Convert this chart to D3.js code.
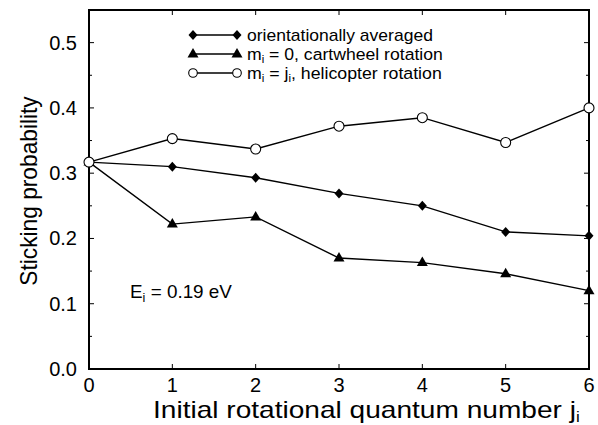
<!DOCTYPE html>
<html><head><meta charset="utf-8">
<script src="https://cdn.jsdelivr.net/npm/d3@7"></script>
<style>body{margin:0;background:#fff}svg{display:block}text{font-family:"Liberation Sans",Arial,sans-serif;fill:#000}</style>
</head><body>
<script>
const jValues = [0, 1, 2, 3, 4, 5, 6];
const averaged = [0.317, 0.310, 0.293, 0.269, 0.250, 0.210, 0.204];
const cartwheel = [0.317, 0.222, 0.233, 0.170, 0.163, 0.146, 0.120];
const helicopter = [0.317, 0.353, 0.337, 0.372, 0.385, 0.347, 0.400];
const xTicks = [0, 1, 2, 3, 4, 5, 6];
const yTicks = [0.0, 0.1, 0.2, 0.3, 0.4, 0.5];
const yMinorTicks = [0.05, 0.15, 0.25, 0.35, 0.45];

const W = 598, H = 425;
const svg = d3.select("body").append("svg").attr("width", W).attr("height", H);
const x = d3.scaleLinear().domain([0, 6]).range([89, 589]);
const y = d3.scaleLinear().domain([0, 0.55]).range([369, 10]);

function fitX(sel, left, right) {
  const bb = sel.node().getBBox();
  const s = (right - left) / bb.width;
  sel.attr("transform", `translate(${left},0) scale(${s},1) translate(${-bb.x},0)`);
}

// tick marks (inward) on all sides
const g = svg.append("g");
const majLen = 5, minLen = 3;
xTicks.forEach(t => {
  g.append("line").attr("x1", x(t)).attr("x2", x(t)).attr("y1", y(0)).attr("y2", y(0) - majLen).attr("stroke", "#000").attr("stroke-width", 1);
  g.append("line").attr("x1", x(t)).attr("x2", x(t)).attr("y1", y(0.55)).attr("y2", y(0.55) + majLen).attr("stroke", "#000").attr("stroke-width", 1);
});
yTicks.forEach(t => {
  g.append("line").attr("x1", x(0)).attr("x2", x(0) + majLen).attr("y1", y(t)).attr("y2", y(t)).attr("stroke", "#000").attr("stroke-width", 1);
  g.append("line").attr("x1", x(6)).attr("x2", x(6) - majLen).attr("y1", y(t)).attr("y2", y(t)).attr("stroke", "#000").attr("stroke-width", 1);
});
yMinorTicks.forEach(t => {
  g.append("line").attr("x1", x(0)).attr("x2", x(0) + minLen).attr("y1", y(t)).attr("y2", y(t)).attr("stroke", "#000").attr("stroke-width", 1);
  g.append("line").attr("x1", x(6)).attr("x2", x(6) - minLen).attr("y1", y(t)).attr("y2", y(t)).attr("stroke", "#000").attr("stroke-width", 1);
});
// frame
svg.append("rect").attr("x", x(0)).attr("y", y(0.55)).attr("width", x(6) - x(0)).attr("height", y(0) - y(0.55))
  .attr("fill", "none").attr("stroke", "#000").attr("stroke-width", 2);

// tick labels
svg.append("g").selectAll("text").data(xTicks).join("text")
  .attr("x", d => x(d)).attr("y", 392).attr("text-anchor", "middle").attr("font-size", 20).text(d => d);
svg.append("g").selectAll("text").data(yTicks).join("text")
  .attr("x", 77).attr("y", d => y(d) + 7).attr("text-anchor", "end").attr("font-size", 20).text(d => d.toFixed(1));

// axis titles
const xt = svg.append("text").attr("x", 153).attr("y", 418).attr("font-size", 23);
xt.append("tspan").text("Initial rotational quantum number j");
xt.append("tspan").attr("font-size", 14).attr("dy", 4).text("i");
fitX(xt, 153, 580);

const yt = svg.append("text").attr("x", 0).attr("y", 0).attr("text-anchor", "middle").attr("font-size", 23).text("Sticking probability");
{
  const bb = yt.node().getBBox();
  const s = 190 / bb.width;
  yt.attr("transform", `translate(37,191) rotate(-90) scale(${s},1)`);
}

// lines
const line = d3.line().x((d, i) => x(jValues[i])).y(d => y(d));
const series = [
  {vals: averaged, sym: "diamond"},
  {vals: cartwheel, sym: "triangle"},
  {vals: helicopter, sym: "circle"}
];
function drawMarker(sel, sym, cx, cy, r) {
  if (sym === "diamond") {
    sel.append("path").attr("d", `M${cx},${cy-5}L${cx+4.5},${cy}L${cx},${cy+5}L${cx-4.5},${cy}Z`).attr("fill", "#000");
  } else if (sym === "triangle") {
    sel.append("path").attr("d", `M${cx},${cy-6}L${cx+5.5},${cy+3.5}L${cx-5.5},${cy+3.5}Z`).attr("fill", "#000");
  } else {
    sel.append("circle").attr("cx", cx).attr("cy", cy).attr("r", r || 5).attr("fill", "#fff").attr("stroke", "#000").attr("stroke-width", 1.1);
  }
}
series.forEach(s => {
  svg.append("path").datum(s.vals).attr("d", line).attr("fill", "none").attr("stroke", "#000").attr("stroke-width", 1.4);
});
series.forEach(s => {
  const mg = svg.append("g");
  s.vals.forEach((v, i) => drawMarker(mg, s.sym, x(jValues[i]), y(v)));
});

// legend
const legendRows = [
  {sym: "diamond", right: 433, parts: [["orientationally averaged", null]]},
  {sym: "triangle", right: 443, parts: [["m", null], ["i", "sub"], [" = 0, cartwheel rotation", null]]},
  {sym: "circle", right: 442, parts: [["m", null], ["i", "sub"], [" = j", null], ["i", "sub"], [", helicopter rotation", null]]}
];
const legY = [35, 54, 73];
legendRows.forEach((r, k) => {
  const lg = svg.append("g");
  lg.append("line").attr("x1", 193).attr("x2", 237).attr("y1", legY[k]).attr("y2", legY[k]).attr("stroke", "#000").attr("stroke-width", 1.4);
  drawMarker(lg, r.sym, 193, legY[k], 4.3);
  drawMarker(lg, r.sym, 237, legY[k], 4.3);
  const t = lg.append("text").attr("x", 247).attr("y", legY[k] + 6).attr("font-size", 17);
  let sub = false;
  r.parts.forEach(p => {
    const ts = t.append("tspan").text(p[0]);
    if (p[1] === "sub") { ts.attr("font-size", 11).attr("dy", 3.5); sub = true; }
    else if (sub) { ts.attr("dy", -3.5); sub = false; }
  });
  fitX(t, 247, r.right);
});

// annotation
const ann = svg.append("text").attr("x", 130).attr("y", 298).attr("font-size", 18);
ann.append("tspan").text("E");
ann.append("tspan").attr("font-size", 12).attr("dy", 4).text("i");
ann.append("tspan").attr("dy", -4).text(" = 0.19 eV");
fitX(ann, 130, 232);
</script>
</body></html>
